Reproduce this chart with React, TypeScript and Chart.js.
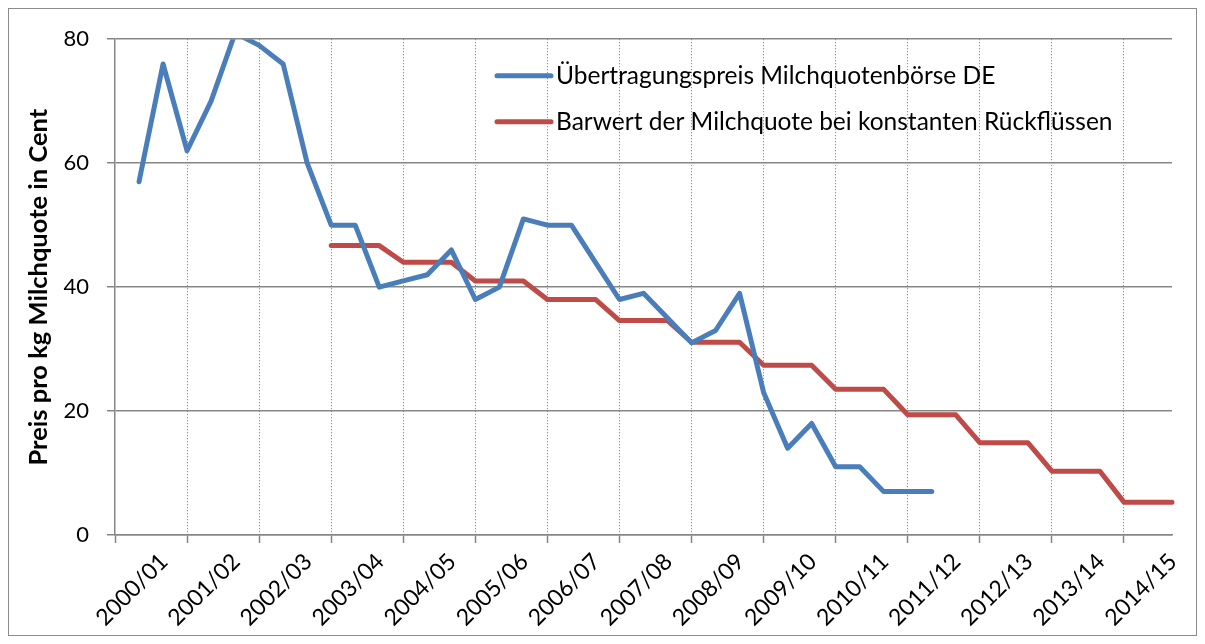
import React, { useEffect, useRef } from 'react';
import { Chart, registerables } from 'chart.js';

Chart.register(...registerables);

const years = ['2000/01', '2001/02', '2002/03', '2003/04', '2004/05', '2005/06', '2006/07', '2007/08', '2008/09', '2009/10', '2010/11', '2011/12', '2012/13', '2013/14', '2014/15'];
const tradesPerYear = 3;
const yTicks = [0, 20, 40, 60, 80];
const seriesLabels = ['Übertragungspreis Milchquotenbörse DE', 'Barwert der Milchquote bei konstanten Rückflüssen'];
const yTitle = 'Preis pro kg Milchquote in Cent';

// one value per trading date (3 per milk year), null = no value
const uebertragungspreis = [null, 57, 76, 62, 70, 81, 79, 76, 60, 50, 50, 40, 41, 42, 46, 38, 40, 51, 50, 50, 44, 38, 39, 35, 31, 33, 39, 23, 14, 18, 11, 11, 7, 7, 7];
const barwert = [null, null, null, null, null, null, null, null, null, 46.7, 46.7, 46.7, 44, 44, 44, 41, 41, 41, 38, 38, 38, 34.6, 34.6, 34.6, 31.1, 31.1, 31.1, 27.4, 27.4, 27.4, 23.5, 23.5, 23.5, 19.4, 19.4, 19.4, 14.9, 14.9, 14.9, 10.3, 10.3, 10.3, 5.3, 5.3, 5.3];

const W = 1189;
const H = 628;
const FONT = 'Lato, "Open Sans", sans-serif';
const GRID = '#868686';

const toPoints = (arr: (number | null)[]) => arr.map((v, i) => ({ x: i, y: v }));

const frameAndLegend = {
  id: 'frameAndLegend',
  beforeDraw(chart: any) {
    const ctx = chart.ctx;
    ctx.save();
    ctx.fillStyle = '#fff';
    ctx.fillRect(0, 0, chart.width, chart.height);
    ctx.strokeStyle = '#8c8c8c';
    ctx.lineWidth = 1;
    ctx.strokeRect(0.5, 0.5, chart.width - 1, chart.height - 1);
    ctx.restore();
  },
  afterDraw(chart: any) {
    const ctx = chart.ctx;
    const x0 = 489;
    const y0 = 67.7;
    const gap = 46;
    ctx.save();
    chart.data.datasets.forEach((ds: any, i: number) => {
      const y = y0 + i * gap;
      ctx.beginPath();
      ctx.strokeStyle = ds.borderColor;
      ctx.lineWidth = 5;
      ctx.lineCap = 'round';
      ctx.moveTo(x0, y);
      ctx.lineTo(x0 + 54, y);
      ctx.stroke();
      ctx.fillStyle = '#000';
      ctx.font = `24.5px ${FONT}`;
      ctx.textBaseline = 'alphabetic';
      ctx.textAlign = 'left';
      ctx.fillText(ds.label, x0 + 59, y + 8.6);
    });
    ctx.restore();
  },
};

export default function App() {
  const ref = useRef<HTMLCanvasElement>(null);

  useEffect(() => {
    if (!ref.current) return;
    const lastIndex = years.length * tradesPerYear - 1;
    const chart = new Chart(ref.current, {
      type: 'line',
      data: {
        datasets: [
          {
            label: seriesLabels[0],
            data: toPoints(uebertragungspreis),
            borderColor: '#4A7EBB',
            backgroundColor: '#4A7EBB',
            borderWidth: 5,
            pointRadius: 0,
            borderCapStyle: 'round',
            borderJoinStyle: 'round',
            tension: 0,
            clip: { left: 10, right: 10, top: 0, bottom: 10 },
          },
          {
            label: seriesLabels[1],
            data: toPoints(barwert),
            borderColor: '#BE4B48',
            backgroundColor: '#BE4B48',
            borderWidth: 5,
            pointRadius: 0,
            borderCapStyle: 'round',
            borderJoinStyle: 'round',
            tension: 0,
            clip: { left: 10, right: 10, top: 0, bottom: 10 },
          },
        ],
      },
      options: {
        responsive: false,
        animation: false,
        events: [],
        layout: { padding: { left: 0, top: 28, right: 25, bottom: 0 } },
        plugins: {
          legend: { display: false },
          tooltip: { enabled: false },
        },
        scales: {
          x: {
            type: 'linear',
            min: 0,
            max: lastIndex,
            afterBuildTicks: (scale: any) => {
              scale.ticks = years.map((_, i) => ({ value: i * tradesPerYear }));
            },
            afterFit: (scale: any) => {
              scale.height = 101;
            },
            ticks: {
              autoSkip: false,
              minRotation: 45,
              maxRotation: 45,
              labelOffset: 49,
              padding: 5,
              color: '#000',
              font: { family: FONT, size: 23 },
              callback: (value: any) => years[Math.round(Number(value) / tradesPerYear)] ?? '',
            },
            grid: {
              color: (c: any) => (c.tick && c.tick.value === 0 ? 'rgba(0,0,0,0)' : '#777777'),
              lineWidth: 1,
              drawTicks: true,
              tickLength: 8,
              tickColor: GRID,
              tickWidth: 1.5,
              tickBorderDash: [],
            },
            border: { display: true, color: GRID, width: 1.5, dash: [1, 2] },
          },
          y: {
            type: 'linear',
            min: yTicks[0],
            max: yTicks[yTicks.length - 1],
            afterBuildTicks: (scale: any) => {
              scale.ticks = yTicks.map((v) => ({ value: v }));
            },
            afterFit: (scale: any) => {
              scale.width = 107;
            },
            ticks: {
              padding: 18,
              color: '#000',
              font: { family: FONT, size: 22 },
            },
            grid: {
              color: GRID,
              lineWidth: 1.5,
              drawTicks: true,
              tickLength: 8,
              tickColor: GRID,
              tickWidth: 1.5,
            },
            border: { display: true, color: GRID, width: 1.5 },
            title: {
              display: true,
              text: yTitle,
              color: '#000',
              font: { family: FONT, size: 25.5, weight: 'bold' },
              padding: { top: 15.5, bottom: 0 },
            },
          },
        },
      },
      plugins: [frameAndLegend],
    } as any);
    return () => chart.destroy();
  }, []);

  return (
    <div style={{ width: W, height: H }}>
      <canvas ref={ref} width={W} height={H} style={{ display: 'block', width: W, height: H }} />
    </div>
  );
}
